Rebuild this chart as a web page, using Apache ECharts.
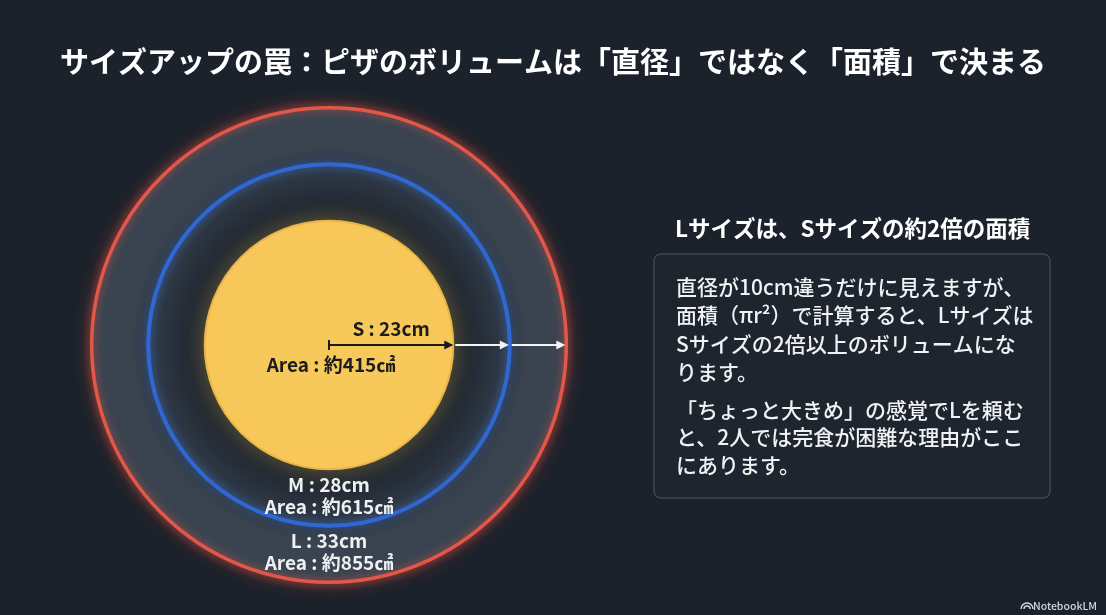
<!DOCTYPE html>
<html>
<head>
<meta charset="utf-8">
<script src="https://cdn.jsdelivr.net/npm/echarts@6/dist/echarts.min.js"></script>
<style>
html,body{margin:0;padding:0;background:#1b222b;}
#chart{width:1106px;height:615px;}
</style>
</head>
<body>
<div id="chart"></div>
<script>
// ---- data ----
const sizeNames = ['S', 'M', 'L'];
const diameters = [23, 28, 33];          // cm
const areas = [415, 615, 855];           // ㎠ (approx.)
const titleText = 'サイズアップの罠：ピザのボリュームは「直径」ではなく「面積」で決まる';
const headingText = 'Lサイズは、Sサイズの約2倍の面積';
const bodyPara1 = ['直径が10cm違うだけに見えますが、', '面積（πr²）で計算すると、Lサイズは', 'Sサイズの2倍以上のボリュームにな', 'ります。'];
const bodyPara2 = ['「ちょっと大きめ」の感覚でLを頼む', 'と、2人では完食が困難な理由がここ', 'にあります。'];

const FONT = '"Noto Sans CJK JP", "Noto Sans", sans-serif';
const chart = echarts.init(document.getElementById('chart'), null, {renderer: 'canvas'});

// disc data: draw largest first
const discData = [2, 1, 0].map(i => [diameters[i], 0, i]);
const annoData = [0, 1, 2].map(i => [diameters[i], 0, i, i > 0 ? diameters[i - 1] : null]);

function pxRadius(api, cs, v) {
  const p = api.coord([v, 0]);
  return Math.hypot(p[0] - cs.cx, p[1] - cs.cy);
}

function renderDisc(params, api) {
  const cs = params.coordSys;
  const cx = cs.cx, cy = cs.cy;
  const r = pxRadius(api, cs, api.value(0));
  const idx = api.value(2);
  if (idx === 2) {
    return {type: 'group', children: [
      {type: 'circle', shape: {cx, cy, r}, style: {fill: '#3a4450', shadowBlur: 20, shadowColor: 'rgba(230,75,60,0.45)'}},
      {type: 'circle', shape: {cx, cy, r}, style: {fill: null, stroke: '#e2574a', lineWidth: 3.5, shadowBlur: 8, shadowColor: 'rgba(240,90,70,0.7)'}}
    ]};
  }
  if (idx === 1) {
    return {type: 'group', children: [
      {type: 'circle', shape: {cx, cy, r}, style: {
        fill: new echarts.graphic.RadialGradient(0.5, 0.5, 0.5, [
          {offset: 0, color: '#1a2028'},
          {offset: 0.68, color: '#1c232c'},
          {offset: 0.8, color: '#222a34'},
          {offset: 0.95, color: '#2e3844'},
          {offset: 1, color: '#323c49'}
        ]),
        shadowBlur: 18, shadowColor: 'rgba(10,14,20,0.7)'}},
      {type: 'circle', shape: {cx, cy, r}, style: {fill: null, stroke: '#3068d2', lineWidth: 4, shadowBlur: 10, shadowColor: 'rgba(60,120,230,0.75)'}}
    ]};
  }
  return {type: 'group', children: [
    {type: 'circle', shape: {cx, cy, r}, style: {fill: '#f7c85a', stroke: '#e7b54a', lineWidth: 2, shadowBlur: 22, shadowColor: 'rgba(250,200,80,0.35)'}}
  ]};
}

function arrow(x1, x2, y, color) {
  return [
    {type: 'line', shape: {x1: x1, y1: y, x2: x2 - 6, y2: y}, style: {stroke: color, lineWidth: 2}},
    {type: 'polygon', shape: {points: [[x2, y], [x2 - 9, y - 4.5], [x2 - 9, y + 4.5]]}, style: {fill: color}}
  ];
}

function label(x, y, text, color) {
  return {type: 'text', x: x, y: y, style: {text: text, fill: color, fontSize: 19, fontWeight: 600,
    fontFamily: FONT, align: 'center', verticalAlign: 'middle'}};
}

function renderAnno(params, api) {
  const cs = params.coordSys;
  const cx = cs.cx, cy = cs.cy;
  const idx = api.value(2);
  const d = api.value(0);
  const r = pxRadius(api, cs, d);
  const name = sizeNames[idx];
  const line1 = name + ' : ' + d + 'cm';
  const line2 = 'Area : 約' + areas[idx] + '㎠';
  let children = [];
  if (idx === 0) {
    children = children.concat(arrow(cx, cx + r, cy, '#1a1a1a'));
    children.push({type: 'line', shape: {x1: cx, y1: cy - 5, x2: cx, y2: cy + 5}, style: {stroke: '#1a1a1a', lineWidth: 2}});
    children.push(label(cx + r / 2, cy - 16, line1, '#1c1c1c'));
    children.push(label(cx + 2, cy + 20, line2, '#1c1c1c'));
  } else {
    const rPrev = pxRadius(api, cs, api.value(3));
    children = children.concat(arrow(cx + rPrev + 2, cx + r - 1, cy, '#f2f4f6'));
    const mid = cy + (rPrev + r) / 2 - 2;
    children.push(label(cx, mid - 11, line1, '#eef0f2'));
    children.push(label(cx, mid + 11, line2, '#eef0f2'));
  }
  return {type: 'group', children: children};
}

const option = {
  backgroundColor: '#1b222b',
  animation: false,
  polar: {center: [329, 345], radius: 271.2},
  angleAxis: {type: 'value', min: 0, max: 360, startAngle: 0, show: false},
  radiusAxis: {type: 'value', min: 12, max: 36, show: false},
  series: [
    {type: 'custom', coordinateSystem: 'polar', renderItem: renderDisc, data: discData, z: 2, silent: true},
    {type: 'custom', coordinateSystem: 'polar', renderItem: renderAnno, data: annoData, z: 5, silent: true}
  ],
  graphic: [
    {type: 'text', x: 553, y: 62, style: {text: titleText, fill: '#ffffff', fontSize: 29, fontWeight: 'bold', fontFamily: FONT, align: 'center', verticalAlign: 'middle'}},
    {type: 'text', x: 675, y: 228, style: {text: headingText, fill: '#ffffff', fontSize: 22.5, fontWeight: 'bold', fontFamily: FONT, align: 'left', verticalAlign: 'middle'}},
    {type: 'rect', shape: {x: 654, y: 254, width: 396, height: 244, r: 7}, style: {fill: '#1e252e', stroke: '#3d4651', lineWidth: 1.5}},
    {type: 'text', x: 676, y: 273, style: {text: bodyPara1.join('\n'), fill: '#f0f2f4', fontSize: 21, fontWeight: 500, lineHeight: 28.3, fontFamily: FONT, align: 'left', verticalAlign: 'top'}},
    {type: 'text', x: 676, y: 396, style: {text: bodyPara2.join('\n'), fill: '#f0f2f4', fontSize: 21, fontWeight: 500, lineHeight: 27.5, fontFamily: FONT, align: 'left', verticalAlign: 'top'}},
    {type: 'arc', shape: {cx: 1027, cy: 609, r: 6, startAngle: Math.PI, endAngle: 2 * Math.PI}, style: {stroke: '#cfd3d8', lineWidth: 1.5, fill: null}},
    {type: 'arc', shape: {cx: 1027, cy: 609, r: 3, startAngle: Math.PI, endAngle: 2 * Math.PI}, style: {stroke: '#cfd3d8', lineWidth: 1.5, fill: null}},
    {type: 'text', x: 1097, y: 606, style: {text: 'NotebookLM', fill: '#d4d8dc', fontSize: 10.5, fontWeight: 500, fontFamily: FONT, align: 'right', verticalAlign: 'middle'}}
  ]
};
chart.setOption(option);
</script>
</body>
</html>
